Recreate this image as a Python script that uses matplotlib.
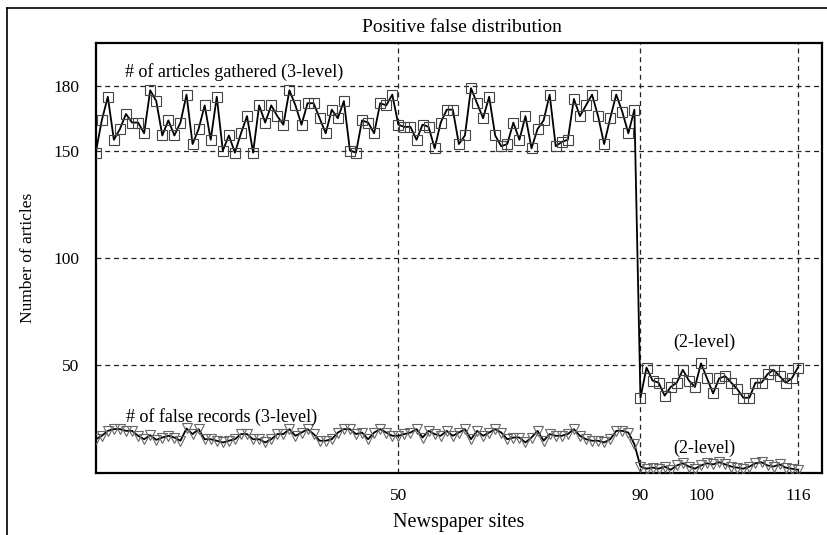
import numpy as np
import matplotlib
matplotlib.use("Agg")
import matplotlib.pyplot as plt
from matplotlib.lines import Line2D

plt.rcParams['font.family'] = ['Liberation Serif', 'DejaVu Serif']

# articles gathered per site (3-level sites 0..89, 2-level sites 90..116)
articles_3level = [149, 164, 175, 155, 160, 167, 163, 163, 158, 178,
                   173, 157, 164, 157, 163, 176, 153, 160, 171, 155,
                   175, 150, 157, 149, 158, 166, 149, 171, 163, 171,
                   166, 162, 178, 171, 162, 172, 172, 165, 158, 169,
                   165, 173, 150, 149, 164, 163, 158, 172, 171, 176,
                   162, 161, 161, 155, 162, 161, 151, 163, 169, 169,
                   153, 157, 179, 172, 165, 175, 157, 152, 153, 163,
                   155, 166, 151, 160, 164, 176, 152, 154, 155, 174,
                   166, 171, 176, 166, 153, 165, 176, 168, 158, 169]
articles_2level = [35, 49, 43, 42, 36, 40, 42, 48, 43, 40,
                   51, 44, 37, 44, 45, 42, 39, 35, 35, 42,
                   42, 46, 48, 45, 42, 44, 49]

# false records per site
false_3level = [15.7, 17.3, 19.6, 20.4, 20.4, 19.6, 19.6, 17.3, 15.7, 17.6,
                15.4, 16.5, 17.3, 16.5, 15.0, 20.7, 18.1, 20.4, 15.7, 15.7,
                15.0, 14.2, 15.0, 15.7, 18.1, 18.1, 15.7, 15.7, 14.2, 15.7,
                18.1, 18.1, 20.4, 17.3, 18.8, 20.4, 18.1, 15.0, 15.0, 15.7,
                18.8, 20.4, 20.4, 18.1, 18.8, 15.7, 18.8, 20.4, 18.8, 17.3,
                17.3, 18.1, 18.8, 20.4, 16.5, 19.6, 18.1, 17.3, 19.6, 17.3,
                18.8, 20.4, 15.7, 19.6, 17.3, 18.8, 20.4, 18.8, 15.7, 16.5,
                16.5, 14.2, 16.5, 19.6, 15.0, 18.1, 17.3, 17.3, 18.1, 20.4,
                17.3, 15.7, 15.0, 15.0, 14.2, 15.7, 19.6, 19.6, 18.8, 13.4]
false_2level = [3.0, 2.0, 2.5, 2.0, 3.0, 1.5, 3.5, 4.5, 3.0, 2.0,
                3.5, 4.5, 4.0, 5.0, 4.0, 3.0, 2.5, 2.0, 3.0, 4.5,
                5.0, 3.5, 3.0, 4.0, 2.5, 2.0, 1.5]

articles = np.array(articles_3level + articles_2level)
false_rec = np.array(false_3level + false_2level)
sites = np.arange(len(articles))

yticks = [50, 100, 150, 180]
xticks = [50, 90, 100, 116]
xgrid = [50, 90, 116]

fig = plt.figure(figsize=(8.28, 5.35), dpi=100)
ax = fig.add_axes([0.1156, 0.1159, 0.8772, 0.8037])

for yv in yticks:
    ax.axhline(yv, color='#222222', lw=0.9, ls=(0, (4, 3)), zorder=1)
for xv in xgrid:
    ax.axvline(xv, color='#222222', lw=0.9, ls=(0, (4, 3)), zorder=1)

ax.plot(sites, articles, color='black', lw=1.3, marker='s', ms=7.5,
        mfc='none', mec='#444444', mew=0.8, zorder=3)
ax.plot(sites, false_rec, color='black', lw=1.3, marker='v', ms=7.5,
        mfc='none', mec='#666666', mew=0.8, zorder=3)

ax.set_xlim(0, 120)
ax.set_ylim(0, 200)
ax.set_xticks(xticks)
ax.set_yticks(yticks)
ax.tick_params(length=0, labelsize=12.5)
ax.tick_params(axis='x', pad=11)
ax.tick_params(axis='y', pad=12)
for s in ax.spines.values():
    s.set_linewidth(1.6)

ax.text(4.8, 186.5, '# of articles gathered (3-level)', fontsize=13, ha='left', va='center')
ax.text(95.4, 61, '(2-level)', fontsize=13, ha='left', va='center')
ax.text(5.0, 26, '# of false records (3-level)', fontsize=13, ha='left', va='center')
ax.text(95.4, 11.6, '(2-level)', fontsize=13, ha='left', va='center')

ax.set_xlabel('Newspaper sites', fontsize=14.5, labelpad=6)
ax.set_ylabel('Number of articles', fontsize=12.5, labelpad=12)
fig.text(0.558, 1 - 27 / 535, 'Positive false distribution', fontsize=14,
         ha='center', va='center')

# outer frame (top and left edges visible)
fig.add_artist(Line2D([7 / 828, 7 / 828], [0, 1 - 8 / 535], color='black', lw=1.2))
fig.add_artist(Line2D([7 / 828, 1], [1 - 8 / 535, 1 - 8 / 535], color='black', lw=1.2))

fig.savefig('out.png', dpi=100)
